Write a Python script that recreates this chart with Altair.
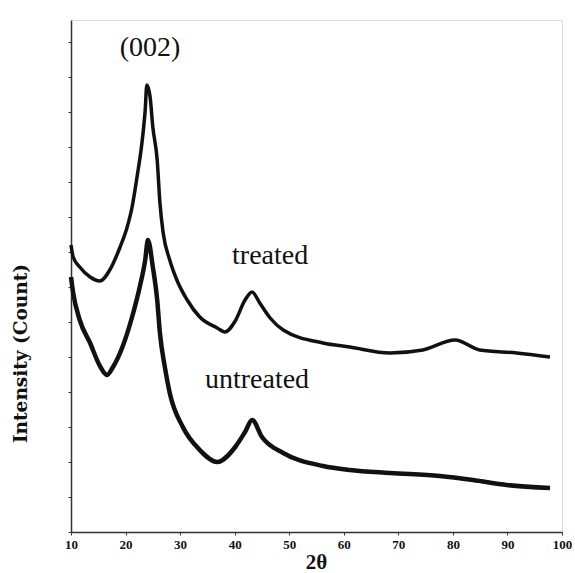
import altair as alt
import pandas as pd

# 2-theta (deg) and intensity (arbitrary counts)
treated_x = [10.0, 10.4, 11.6, 13.5, 15.3, 17.1, 19.0, 20.3, 21.2, 22.1, 23.0, 23.6, 23.9, 24.5,
             25.0, 25.8, 26.3, 26.9, 28.1, 29.4, 31.3, 33.6, 36.8, 38.2, 40.1, 41.9, 43.2,
             44.6, 46.5, 48.9, 56.2, 61.1, 68.5, 74.5, 80.4, 84.9, 91.7, 97.8]
treated_y = [287, 275, 265, 255, 251, 262, 285, 305, 325, 355, 389, 422, 447, 435,
             405, 372, 329, 299, 272, 252, 232, 215, 204, 200, 211, 232, 240,
             229, 214, 202, 189, 185, 179, 182, 192, 182, 179, 175]

untreated_x = [10.0, 10.4, 11.6, 13.5, 15.3, 16.6, 17.7, 19.5, 21.4, 22.6, 23.6, 24.1, 25.0,
               25.8, 26.3, 27.2, 28.1, 30.5, 33.6, 36.8, 40.1, 41.9, 43.2, 45.0, 48.9,
               56.2, 61.1, 68.5, 77.6, 83.7, 89.9, 97.8]
untreated_y = [255, 239, 212, 189, 166, 157, 165, 186, 219, 245, 272, 292, 265,
               232, 199, 165, 139, 105, 82, 70, 85, 100, 112, 95, 79,
               66, 62, 59, 56, 52, 47, 44]

x_ticks = [10, 20, 30, 40, 50, 60, 70, 80, 90, 100]
y_ticks = list(range(0, 491, 35))

labels_text = ["(002)", "treated", "untreated"]
labels_x = [24.5, 46.5, 44.1]
labels_y = [484, 276, 152]

df_t = pd.DataFrame({"theta": treated_x, "I": treated_y})
df_u = pd.DataFrame({"theta": untreated_x, "I": untreated_y})
df_lab = pd.DataFrame({"t": labels_text, "theta": labels_x, "I": labels_y})

xs = alt.Scale(domain=[10, 100], nice=False)
ys = alt.Scale(domain=[0, 512], nice=False)

x_axis = alt.Axis(values=x_ticks, title="2θ", titleFont="Liberation Serif", titleFontSize=21,
                  titleFontWeight="bold", titleColor="#111", titleX=245, titleY=30,
                  titleBaseline="middle", titleAlign="center",
                  labelFont="Liberation Serif", labelFontSize=13, labelFontWeight="bold",
                  labelColor="#111", labelPadding=3, tickSize=3, tickColor="#333",
                  domainColor="#333", domainWidth=1.5, grid=False, labelFlush=False)
y_axis = alt.Axis(values=y_ticks, labels=False, title="Intensity (Count)",
                  titleFont="DejaVu Serif", titleFontSize=18.5, titleFontWeight="bold",
                  titleColor="#111", titleX=-51, titleY=333, titleAngle=270,
                  titleBaseline="middle", titleAlign="center",
                  tickSize=3, tickColor="#333", domainColor="#333", domainWidth=1.5, grid=False)

X = alt.X("theta:Q", scale=xs, axis=x_axis)
Y = alt.Y("I:Q", scale=ys, axis=y_axis)

line_t = alt.Chart(df_t).mark_line(color="#111", strokeWidth=3.5, strokeJoin="round",
                                   interpolate="monotone").encode(x=X, y=Y, order="theta:Q")
line_u = alt.Chart(df_u).mark_line(color="#111", strokeWidth=4.5, strokeJoin="round",
                                   interpolate="monotone").encode(x=X, y=Y, order="theta:Q")
txt = alt.Chart(df_lab).mark_text(font="Liberation Serif", fontSize=28, color="#111",
                                  align="center", baseline="middle").encode(
    x=X, y=Y, text="t:N")

chart = alt.layer(line_t, line_u, txt).properties(
    width=491, height=512,
    padding={"left": 71, "top": 20, "right": 13, "bottom": 41},
    autosize=alt.AutoSizeParams(type="none"),
).configure_view(stroke=None).configure(background="white")

chart.save("out.html", embed_options={"renderer": "svg", "actions": False})
